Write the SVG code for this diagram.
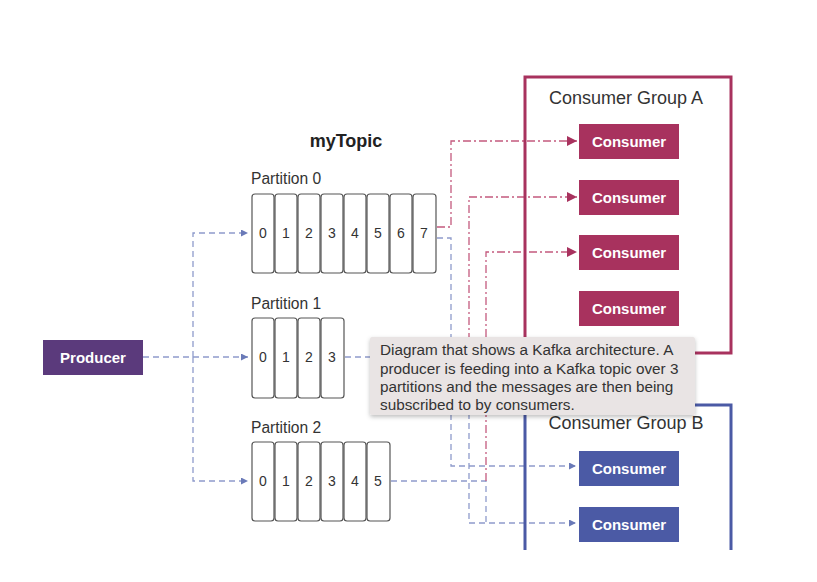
<svg xmlns="http://www.w3.org/2000/svg" width="817" height="582" viewBox="0 0 817 582">
<defs>
<style>
text{font-family:"Liberation Sans","Noto Sans",Arial,sans-serif}
.cell{fill:#fff;stroke:#555;stroke-width:1.2}
.num{font-size:14px;fill:#333;text-anchor:middle}
.plabel{font-size:15.6px;fill:#333}
.ca{fill:#a8325e}
.cb{fill:#4b5aa5}
.ctext{font-size:15px;font-weight:bold;fill:#fff;text-anchor:middle}
.gtitle{font-size:18px;fill:#333;text-anchor:middle}
.blue{fill:none;stroke:#8e9bcb;stroke-width:1.3;stroke-dasharray:6 4}
.red{fill:none;stroke:#c45a7e;stroke-width:1.3;stroke-dasharray:8 3 2 3}
.tip{font-size:15.3px;fill:#333}
</style>
<marker id="ab" viewBox="0 0 10 10" refX="10" refY="5" markerWidth="7" markerHeight="7" orient="auto" markerUnits="userSpaceOnUse"><path d="M0,0L10,5L0,10z" fill="#6a7ab8"/></marker>
<marker id="ar" viewBox="0 0 10 10" refX="10" refY="5" markerWidth="10" markerHeight="10" orient="auto" markerUnits="userSpaceOnUse"><path d="M0,0L10,5L0,10z" fill="#a8325e"/></marker>
<filter id="sh" x="-5%" y="-10%" width="110%" height="130%"><feDropShadow dx="0" dy="2" stdDeviation="2" flood-color="#000" flood-opacity="0.25"/></filter>
</defs>
<rect width="817" height="582" fill="#fff"/>

<g id="connectors">
<path class="blue" d="M143,357 H248" marker-end="url(#ab)"/>
<path class="blue" d="M193,357 V233 H248" marker-end="url(#ab)"/>
<path class="blue" d="M193,357 V481 H248" marker-end="url(#ab)"/>
<path class="blue" d="M437,238 H451 V466 H576" marker-end="url(#ab)"/>
<path class="blue" d="M345,357 H469 V523 H576" marker-end="url(#ab)"/>
<path class="blue" d="M391,481 H486 V523"/>
<path class="red" d="M437,227 H451 V141 H577" marker-end="url(#ar)"/>
<path class="red" d="M469,357 V197 H577" marker-end="url(#ar)"/>
<path class="red" d="M486,481 V252 H577" marker-end="url(#ar)"/>
</g>

<g id="producer">
<rect x="43" y="340" width="100" height="35" fill="#5b3a7c"/>
<text x="93" y="362.5" class="ctext">Producer</text>
</g>

<g id="mytopic">
<text x="346" y="147" font-size="18" font-weight="bold" fill="#222" text-anchor="middle">myTopic</text>
</g>

<g id="partition0">
<text x="251" y="184" class="plabel">Partition 0</text>
<rect class="cell" x="252" y="194" width="22" height="79" rx="3"/>
<rect class="cell" x="275" y="194" width="22" height="79" rx="3"/>
<rect class="cell" x="298" y="194" width="22" height="79" rx="3"/>
<rect class="cell" x="321" y="194" width="22" height="79" rx="3"/>
<rect class="cell" x="344" y="194" width="22" height="79" rx="3"/>
<rect class="cell" x="367" y="194" width="22" height="79" rx="3"/>
<rect class="cell" x="390" y="194" width="22" height="79" rx="3"/>
<rect class="cell" x="413" y="194" width="23" height="79" rx="3"/>
<text class="num" x="263" y="238">0</text>
<text class="num" x="286" y="238">1</text>
<text class="num" x="309" y="238">2</text>
<text class="num" x="332" y="238">3</text>
<text class="num" x="355" y="238">4</text>
<text class="num" x="378" y="238">5</text>
<text class="num" x="401" y="238">6</text>
<text class="num" x="424" y="238">7</text>
</g>

<g id="partition1">
<text x="251" y="309" class="plabel">Partition 1</text>
<rect class="cell" x="252" y="318" width="22" height="80" rx="3"/>
<rect class="cell" x="275" y="318" width="22" height="80" rx="3"/>
<rect class="cell" x="298" y="318" width="22" height="80" rx="3"/>
<rect class="cell" x="321" y="318" width="23" height="80" rx="3"/>
<text class="num" x="263" y="362">0</text>
<text class="num" x="286" y="362">1</text>
<text class="num" x="309" y="362">2</text>
<text class="num" x="332" y="362">3</text>
</g>

<g id="partition2">
<text x="251" y="433" class="plabel">Partition 2</text>
<rect class="cell" x="252" y="442" width="22" height="79" rx="3"/>
<rect class="cell" x="275" y="442" width="22" height="79" rx="3"/>
<rect class="cell" x="298" y="442" width="22" height="79" rx="3"/>
<rect class="cell" x="321" y="442" width="22" height="79" rx="3"/>
<rect class="cell" x="344" y="442" width="22" height="79" rx="3"/>
<rect class="cell" x="367" y="442" width="23" height="79" rx="3"/>
<text class="num" x="263" y="486">0</text>
<text class="num" x="286" y="486">1</text>
<text class="num" x="309" y="486">2</text>
<text class="num" x="332" y="486">3</text>
<text class="num" x="355" y="486">4</text>
<text class="num" x="378" y="486">5</text>
</g>

<g id="groupA">
<rect x="525" y="77" width="206" height="276" fill="none" stroke="#a8325e" stroke-width="3"/>
<text x="626" y="104" class="gtitle">Consumer Group A</text>
</g>
<g id="consumerA1"><rect class="ca" x="579" y="124" width="100" height="35"/><text class="ctext" x="629" y="147">Consumer</text></g>
<g id="consumerA2"><rect class="ca" x="579" y="180" width="100" height="35"/><text class="ctext" x="629" y="203">Consumer</text></g>
<g id="consumerA3"><rect class="ca" x="579" y="235" width="100" height="35"/><text class="ctext" x="629" y="258">Consumer</text></g>
<g id="consumerA4"><rect class="ca" x="579" y="291" width="100" height="35"/><text class="ctext" x="629" y="314">Consumer</text></g>

<g id="groupB">
<path d="M525,550 V405 H731 V550" fill="none" stroke="#4b5aa5" stroke-width="3"/>
<text x="626" y="429" class="gtitle">Consumer Group B</text>
</g>
<g id="consumerB1"><rect class="cb" x="579" y="451" width="100" height="35"/><text class="ctext" x="629" y="474">Consumer</text></g>
<g id="consumerB2"><rect class="cb" x="579" y="507" width="100" height="35"/><text class="ctext" x="629" y="530">Consumer</text></g>

<g id="tooltip">
<rect x="370" y="337" width="325" height="78" rx="2" fill="#e9e4e4" filter="url(#sh)"/>
<text class="tip" x="380" y="355">Diagram that shows a Kafka architecture. A</text>
<text class="tip" x="380" y="374">producer is feeding into a Kafka topic over 3</text>
<text class="tip" x="380" y="392">partitions and the messages are then being</text>
<text class="tip" x="380" y="410">subscribed to by consumers.</text>
</g>
</svg>
